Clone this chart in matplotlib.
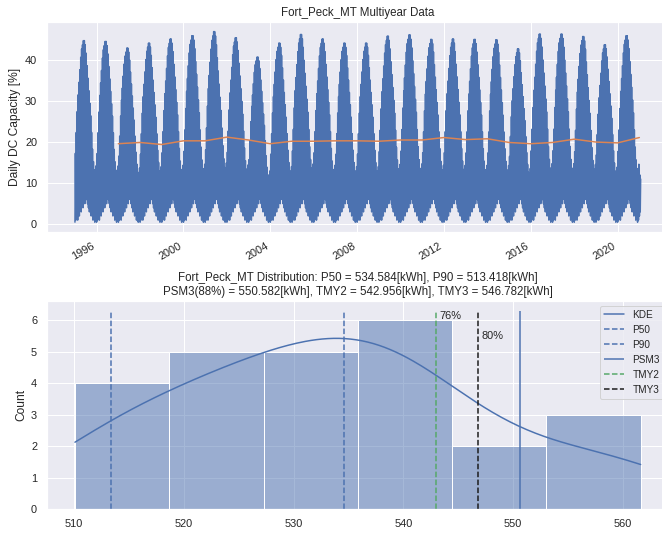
import numpy as np
import pandas as pd
import matplotlib
matplotlib.use("Agg")
import matplotlib.pyplot as plt
import seaborn as sns

# ---- data ----
site = "Fort_Peck_MT"
years = list(range(1995, 2021))
# summer peak of daily DC capacity per year [%]
year_peaks = [44.7, 44.5, 42.9, 44.1, 45.1, 45.9, 46.9, 45.4, 40.7, 44.1, 46.2,
              45.1, 44.1, 44.1, 45.8, 46.1, 45.0, 45.1, 45.0, 44.9, 42.7,
              46.3, 46.3, 45.7, 43.7, 45.9]
# typical year, half-month upper / lower envelope of the daily values [%]
season_hi = [17, 22, 27, 31, 34, 37, 40, 42, 43, 44, 44, 43,
             41, 38, 35, 32, 29, 26, 22, 18, 15, 13, 12, 14]
season_lo = [0.5, 1, 2, 1, 3, 2, 4, 3, 5, 4, 6, 5,
             7, 6, 5, 4, 3, 4, 2, 3, 1, 2, 0.5, 1]
# last few days (Jan 2021)
tail_vals = [2, 12, 3, 11]

# annual mean daily capacity, 1996..2020 [%]
annual_years = list(range(1996, 2021))
annual_mean = [19.6, 19.9, 19.4, 20.3, 20.3, 21.2, 20.5, 19.6, 20.2, 20.2,
               20.3, 20.3, 20.2, 20.5, 20.5, 21.1, 20.6, 20.8, 19.9, 19.6,
               19.9, 20.7, 20.0, 19.8, 21.1]

# annual energy per year [kWh]
annual_energy = [510.1, 513.0, 514.5, 515.8,
                 520.3, 522.5, 524.0, 525.3, 526.6,
                 528.5, 530.3, 532.2, 534.584, 535.4,
                 536.3, 537.3, 538.4, 539.6, 541.0, 542.6,
                 545.8, 549.0,
                 555.5, 559.0, 561.6]
p50 = 534.584
p90 = 513.418
psm3 = 550.582
psm3_pct = 88
tmy2 = 542.956
tmy3 = 546.782
tmy2_pct = "76%"
tmy3_pct = "80%"

# ---- build the daily-looking series ----
dates, vals = [], []
for y, pk in zip(years, year_peaks):
    scale = pk / max(season_hi)
    for i in range(24):
        m = i // 2 + 1
        d0 = 1 if i % 2 == 0 else 16
        dates.append(pd.Timestamp(y, m, d0))
        vals.append(season_lo[i])
        dates.append(pd.Timestamp(y, m, d0 + 7))
        vals.append(season_hi[i] * scale)
for k, v in enumerate(tail_vals):
    dates.append(pd.Timestamp(2021, 1, 1 + 7 * k))
    vals.append(v)
daily = pd.Series(vals, index=pd.DatetimeIndex(dates))
annual = pd.Series(annual_mean,
                   index=pd.DatetimeIndex([pd.Timestamp(y, 12, 31) for y in annual_years]))

# ---- plot ----
sns.set_theme()
plt.rcParams['font.family'] = ['Liberation Sans', 'DejaVu Sans']

W, H, DPI = 662, 533, 72
fig = plt.figure(figsize=(W / DPI, H / DPI), dpi=DPI)
ax1 = fig.add_axes([0.0705, 0.5653, 0.940, 0.3934])
ax2 = fig.add_axes([0.0705, 0.0441, 0.940, 0.3917])

ax1.plot(daily.index, daily.values, color="C0", lw=1.5)
ax1.plot(annual.index, annual.values, color="C1", lw=1.5)
ax1.set_ylabel("Daily DC Capacity [%]", fontsize=12)
ax1.set_title(f"{site} Multiyear Data", fontsize=11.5)
ax1.tick_params(labelsize=11)
for lab in ax1.get_xticklabels():
    lab.set_rotation(30)
    lab.set_ha("right")

sns.histplot(annual_energy, bins=6, kde=True, ax=ax2, color="C0")
top = 6 * 1.05
ax2.vlines(p50, 0, top, colors="C0", linestyles="--")
ax2.vlines(p90, 0, top, colors="C0", linestyles="--")
ax2.vlines(psm3, 0, top, colors="C0", linestyles="-")
ax2.vlines(tmy2, 0, top, colors="C2", linestyles="--")
ax2.vlines(tmy3, 0, top, colors="k", linestyles="--")
ax2.text(tmy2 + 0.3, 6.12, tmy2_pct, fontsize=11, va="center", ha="left")
ax2.text(tmy3 + 0.3, 5.5, tmy3_pct, fontsize=11, va="center", ha="left")
handles = [ax2.lines[0]] + ax2.collections[-5:]
ax2.legend(handles, ["KDE", "P50", "P90", "PSM3", "TMY2", "TMY3"],
           loc="upper right", fontsize=10)
ax2.set_ylabel("Count", fontsize=12)
ax2.tick_params(labelsize=11)
ax2.set_title(f"{site} Distribution: P50 = {p50:.3f}[kWh], P90 = {p90:.3f}[kWh]\n"
              f"PSM3({psm3_pct}%) = {psm3:.3f}[kWh], TMY2 = {tmy2:.3f}[kWh], TMY3 = {tmy3:.3f}[kWh]",
              fontsize=11.5)

fig.savefig("out.png", dpi=DPI)
